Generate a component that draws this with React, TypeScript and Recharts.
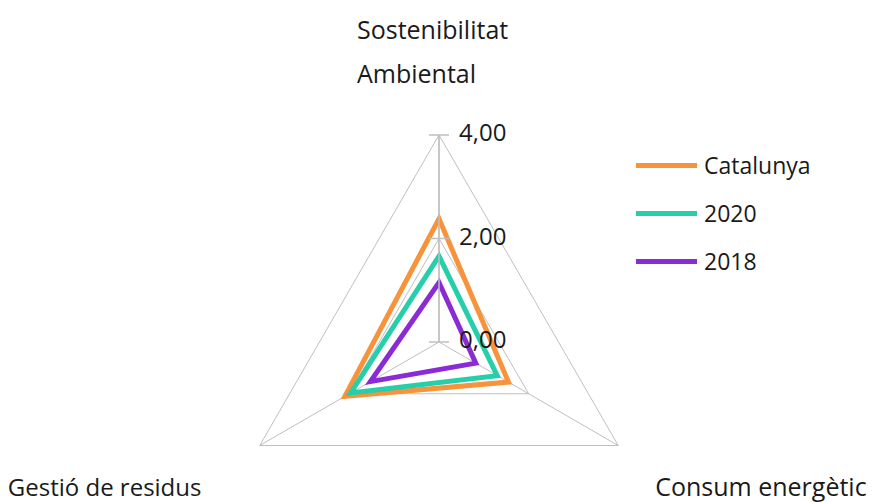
import React from "react";
import {
  Legend,
  PolarAngleAxis,
  PolarGrid,
  PolarRadiusAxis,
  Radar,
  RadarChart,
} from "recharts";

// Radar de 3 eixos (estil Excel): Catalunya vs 2020 vs 2018

const ORANGE = "#F7943B";
const TEAL = "#26CEAA";
const PURPLE = "#8A2BD6";
const GRID = "#BFBFBF";
const TEXT = "#1A1A1A";
const FONT = "'Open Sans', sans-serif";

const categories = ["Sostenibilitat Ambiental", "Consum energètic", "Gestió de residus"];
const catalunya = [2.38, 1.55, 2.1];
const y2020 = [1.66, 1.3, 1.97];
const y2018 = [1.15, 0.82, 1.53];
const radiusTicks = [0, 2, 4];

const rows = categories.map((name, i) => ({
  name,
  catalunya: catalunya[i],
  y2020: y2020[i],
  y2018: y2018[i],
}));

const series = [
  { key: "catalunya", label: "Catalunya", color: ORANGE },
  { key: "y2020", label: "2020", color: TEAL },
  { key: "y2018", label: "2018", color: PURPLE },
];

const fmt = (v: number) => v.toFixed(2).replace(".", ",");

function AngleTick(props: any) {
  const { x, y, payload, index } = props;
  const style = { fontFamily: FONT, fontSize: 25, fill: TEXT };
  if (index === 0) {
    const [a, b] = String(payload.value).split(" ");
    return (
      <text x={x - 82} y={y - 88} textAnchor="start" style={style}>
        <tspan x={x - 82} dy={0}>{a}</tspan>
        <tspan x={x - 82} dy={44}>{b}</tspan>
      </text>
    );
  }
  if (index === 1) {
    return (
      <text x={x + 30} y={y + 46} textAnchor="start" style={style}>
        {payload.value}
      </text>
    );
  }
  return (
    <text x={x - 245} y={y + 46} textAnchor="start" style={{ ...style, fontSize: 24 }}>
      {payload.value}
    </text>
  );
}

// tick perpendicular a l'eix; només l'eix vertical porta etiqueta
function makeRadiusTick(angle: number, withLabel: boolean) {
  const rad = (angle * Math.PI) / 180;
  const px = Math.sin(rad) * 10;
  const py = Math.cos(rad) * 10;
  return function RadiusTick(props: any) {
    const { x, y, payload } = props;
    return (
      <g>
        <line x1={x - px} y1={y - py} x2={x + px} y2={y + py} stroke={GRID} strokeWidth={1.5} />
        {withLabel && (
          <text
            x={x + 20}
            y={y}
            dominantBaseline="middle"
            style={{ fontFamily: FONT, fontSize: 24, fill: TEXT }}
          >
            {fmt(payload.value)}
          </text>
        )}
      </g>
    );
  };
}

function LegendBox() {
  return (
    <div style={{ fontFamily: FONT, fontSize: 23, color: TEXT }}>
      {series.map((s) => (
        <div key={s.key} style={{ display: "flex", alignItems: "center", height: 48 }}>
          <span style={{ width: 61, height: 5, background: s.color, marginRight: 7 }} />
          {s.label}
        </div>
      ))}
    </div>
  );
}

export default function App() {
  return (
    <div style={{ position: "absolute", left: 0, top: 0, background: "#fff" }}>
      <RadarChart
        width={879}
        height={502}
        data={rows}
        cx={439}
        cy={342}
        outerRadius={207}
        margin={{ top: 0, right: 0, bottom: 0, left: 0 }}
      >
        <PolarGrid stroke={GRID} gridType="polygon" />
        <PolarAngleAxis dataKey="name" tick={<AngleTick />} tickLine={false} axisLine={false} />
        <PolarRadiusAxis
          angle={90}
          domain={[0, 4]}
          tickCount={3}
          ticks={radiusTicks as any}
          axisLine={{ stroke: GRID, strokeWidth: 1.5 }}
          tick={makeRadiusTick(90, true)}
        />
        <PolarRadiusAxis
          radiusAxisId="r2"
          angle={-30}
          domain={[0, 4]}
          tickCount={3}
          axisLine={false}
          tick={makeRadiusTick(-30, false)}
        />
        <PolarRadiusAxis
          radiusAxisId="r3"
          angle={210}
          domain={[0, 4]}
          tickCount={3}
          axisLine={false}
          tick={makeRadiusTick(210, false)}
        />
        {series.map((s) => (
          <Radar
            key={s.key}
            name={s.label}
            dataKey={s.key}
            stroke={s.color}
            strokeWidth={5}
            fill="none"
            fillOpacity={0}
            dot={false}
            isAnimationActive={false}
          />
        ))}
        <Legend
          content={<LegendBox />}
          wrapperStyle={{ position: "absolute", left: 636, top: 141, width: 220 }}
        />
      </RadarChart>
    </div>
  );
}
